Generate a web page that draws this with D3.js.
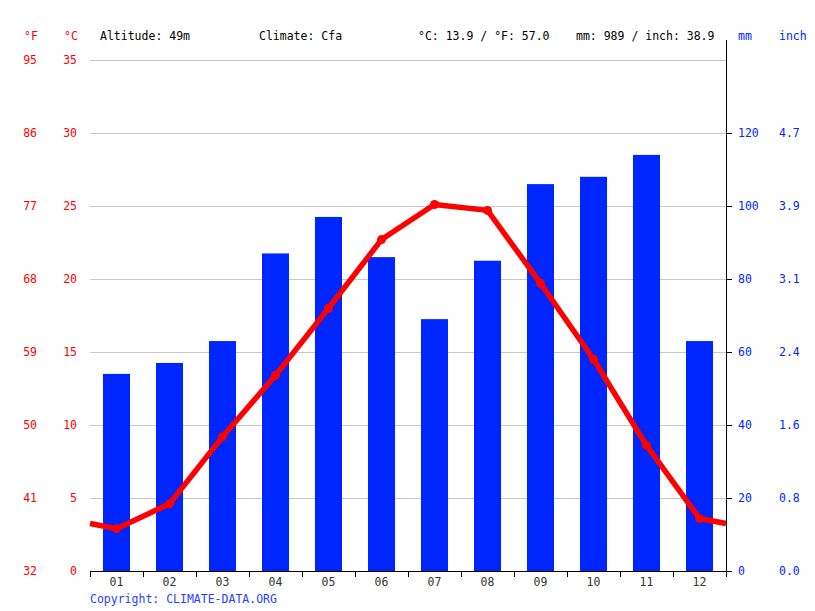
<!DOCTYPE html>
<html>
<head>
<meta charset="utf-8">
<script src="https://cdn.jsdelivr.net/npm/d3@7"></script>
<style>
  body { margin: 0; background: #fff; }
  svg text { font-family: "DejaVu Sans Mono", monospace; font-size: 11.5px; }
</style>
</head>
<body>
<svg></svg>
<script>
// data
var months = ['01', '02', '03', '04', '05', '06', '07', '08', '09', '10', '11', '12']
var precipMm = [54, 57, 63, 87, 97, 86, 69, 85, 106, 108, 114, 63]
var tempC = [2.9, 4.6, 9.2, 13.4, 18.0, 22.7, 25.1, 24.7, 19.7, 14.5, 8.6, 3.6]

var tempTicksC = [0, 5, 10, 15, 20, 25, 30, 35]
var tempTicksF = [32, 41, 50, 59, 68, 77, 86, 95]
var mmTicks = [0, 20, 40, 60, 80, 100, 120]
var inchTicks = ['0.0', '0.8', '1.6', '2.4', '3.1', '3.9', '4.7']

var svgWidth = 815, svgHeight = 611
// plot edges (note: "top" is taken by window.top, so use p* names)
var pLeft = 90, pRight = 726, pTop = 60, pBottom = 571

var svg = d3.select('svg')
    .attr('width', svgWidth)
    .attr('height', svgHeight)

var x = d3.scaleBand()
    .domain(months)
    .range([pLeft, pRight])

var yTemp = d3.scaleLinear()
    .domain([0, 35])
    .range([pBottom, pTop])

var yMm = d3.scaleLinear()
    .domain([0, 140])
    .range([pBottom, pTop])

var red = '#ff0000', blue = '#0026ff', grey = '#c8c8c8'

// grid lines
svg.selectAll('.grid')
    .data(tempTicksC.slice(1))
    .enter()
    .append('line')
    .attr('x1', pLeft).attr('x2', pRight)
    .attr('y1', function(d) { return yTemp(d) + 0.5 })
    .attr('y2', function(d) { return yTemp(d) + 0.5 })
    .style('stroke', grey)

// bars
var barWidth = x.bandwidth() * 0.51
svg.selectAll('.bar')
    .data(precipMm)
    .enter()
    .append('rect')
    .attr('x', function(d, i) { return x(months[i]) + (x.bandwidth() - barWidth) / 2 })
    .attr('y', function(d) { return yMm(d) })
    .attr('width', barWidth)
    .attr('height', function(d) { return pBottom - yMm(d) })
    .style('fill', blue)

// temperature line, ends carried to the edges (Dec/Jan average)
var edgeT = (tempC[0] + tempC[11]) / 2
var pts = [[pLeft, yTemp(edgeT)]]
tempC.forEach(function(d, i) {
    pts.push([x(months[i]) + x.bandwidth() / 2, yTemp(d)])
})
pts.push([pRight, yTemp(edgeT)])

svg.append('path')
    .attr('d', d3.line()(pts))
    .style('fill', 'none')
    .style('stroke', red)
    .style('stroke-width', 5.5)
    .style('stroke-linejoin', 'round')

svg.selectAll('.dot')
    .data(tempC)
    .enter()
    .append('circle')
    .attr('cx', function(d, i) { return x(months[i]) + x.bandwidth() / 2 })
    .attr('cy', function(d) { return yTemp(d) })
    .attr('r', 4.5)
    .style('fill', red)

// bottom axis
var xAxis = svg.append('g')
xAxis.append('line')
    .attr('x1', pLeft).attr('x2', pRight + 0.5)
    .attr('y1', pBottom + 0.5).attr('y2', pBottom + 0.5)
    .style('stroke', '#000')
xAxis.selectAll('.xt')
    .data(d3.range(months.length + 1))
    .enter()
    .append('line')
    .attr('x1', function(i) { return Math.round(pLeft + i * x.step()) + 0.5 })
    .attr('x2', function(i) { return Math.round(pLeft + i * x.step()) + 0.5 })
    .attr('y1', pBottom).attr('y2', pBottom + 6)
    .style('stroke', '#000')
xAxis.selectAll('text')
    .data(months)
    .enter()
    .append('text')
    .attr('x', function(d) { return x(d) + x.bandwidth() / 2 })
    .attr('y', pBottom + 15)
    .attr('text-anchor', 'middle')
    .style('fill', '#333')
    .text(function(d) { return d })

// right axis
svg.append('line')
    .attr('x1', pRight + 0.5).attr('x2', pRight + 0.5)
    .attr('y1', 40).attr('y2', pBottom + 6)
    .style('stroke', '#000')
svg.selectAll('.rt')
    .data(mmTicks)
    .enter()
    .append('line')
    .attr('x1', pRight).attr('x2', pRight + 6)
    .attr('y1', function(d) { return yMm(d) + 0.5 })
    .attr('y2', function(d) { return yMm(d) + 0.5 })
    .style('stroke', '#000')

svg.selectAll('.mmLabel')
    .data(mmTicks)
    .enter()
    .append('text')
    .attr('x', 738)
    .attr('y', function(d) { return yMm(d) + 4 })
    .style('fill', blue)
    .text(function(d) { return d })

svg.selectAll('.inLabel')
    .data(inchTicks)
    .enter()
    .append('text')
    .attr('x', 779)
    .attr('y', function(d, i) { return yMm(mmTicks[i]) + 4 })
    .style('fill', blue)
    .text(function(d) { return d })

// left labels
svg.selectAll('.cLabel')
    .data(tempTicksC)
    .enter()
    .append('text')
    .attr('x', 77)
    .attr('y', function(d) { return yTemp(d) + 4 })
    .attr('text-anchor', 'end')
    .style('fill', red)
    .text(function(d) { return d })

svg.selectAll('.fLabel')
    .data(tempTicksF)
    .enter()
    .append('text')
    .attr('x', 37)
    .attr('y', function(d, i) { return yTemp(tempTicksC[i]) + 4 })
    .attr('text-anchor', 'end')
    .style('fill', red)
    .text(function(d) { return d })

// header
var head = [
    { t: '°F', x: 24, c: red },
    { t: '°C', x: 64, c: red },
    { t: 'Altitude: 49m', x: 100, c: '#000' },
    { t: 'Climate: Cfa', x: 259, c: '#000' },
    { t: '°C: 13.9 / °F: 57.0', x: 418, c: '#000' },
    { t: 'mm: 989 / inch: 38.9', x: 576, c: '#000' },
    { t: 'mm', x: 738, c: blue },
    { t: 'inch', x: 779, c: blue }
]
svg.selectAll('.head')
    .data(head)
    .enter()
    .append('text')
    .attr('x', function(d) { return d.x })
    .attr('y', 40)
    .style('fill', function(d) { return d.c })
    .text(function(d) { return d.t })

svg.append('text')
    .attr('x', 90)
    .attr('y', 603)
    .style('fill', '#2244ff')
    .text('Copyright: CLIMATE-DATA.ORG')
</script>
</body>
</html>
